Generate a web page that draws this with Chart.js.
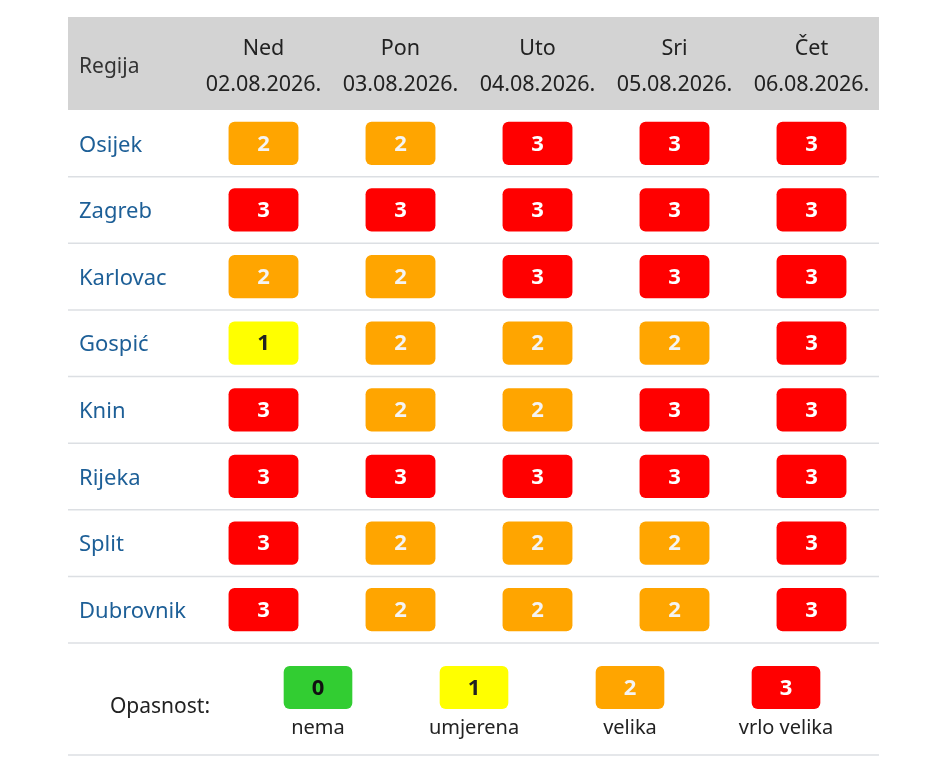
<!DOCTYPE html>
<html>
<head>
<meta charset="utf-8">
<script src="https://cdn.jsdelivr.net/npm/chart.js@4.4.0/dist/chart.umd.min.js"></script>
<style>
html,body{margin:0;padding:0;background:#fff;}
#wrap{position:relative;width:940px;height:782px;}
canvas{position:absolute;left:0;}
#tablica{top:0;}
#legenda{top:643px;}
</style>
</head>
<body>
<div id="wrap">
<canvas id="tablica" width="940" height="650"></canvas>
<canvas id="legenda" width="940" height="139"></canvas>
</div>
<script>
// podaci
var regije = ['Osijek','Zagreb','Karlovac','Gospić','Knin','Rijeka','Split','Dubrovnik'];
var dani = ['Ned','Pon','Uto','Sri','Čet'];
var datumi = ['02.08.2026.','03.08.2026.','04.08.2026.','05.08.2026.','06.08.2026.'];
var ned = [2,3,2,1,3,3,3,3];
var pon = [2,3,2,2,2,3,2,2];
var uto = [3,3,3,2,2,3,2,2];
var sri = [3,3,3,2,3,3,2,2];
var cet = [3,3,3,3,3,3,3,3];
var razine = [0,1,2,3];
var opisi = ['nema','umjerena','velika','vrlo velika'];
var boje = ['#32cd32','#ffff00','#ffa500','#ff0000'];
var bojeTeksta = ['#111','#222','#f4f4f4','#fff'];

Chart.defaults.font.family = '"Noto Sans", sans-serif';
Chart.defaults.font.size = 20;

// brojevi u kućicama
var brojevi = {
  id: 'brojevi',
  afterDatasetsDraw: function(chart) {
    var c = chart.ctx;
    c.save();
    c.font = 'bold 22px "Noto Sans", sans-serif';
    c.textAlign = 'center';
    c.textBaseline = 'middle';
    chart.data.datasets.forEach(function(ds, i) {
      chart.getDatasetMeta(i).data.forEach(function(el, j) {
        var p = el.getCenterPoint();
        var r = ds.razine[j];
        c.fillStyle = bojeTeksta[r];
        c.fillText(String(r), p.x, p.y + 1);
      });
    });
    c.restore();
  }
};

// sivo zaglavlje i crte između redaka
var zaglavlje = {
  id: 'zaglavlje',
  beforeDraw: function(chart) {
    var c = chart.ctx;
    c.save();
    c.fillStyle = '#d3d3d3';
    c.fillRect(68, 17, 811, chart.chartArea.top - 17);
    c.fillStyle = '#333';
    c.font = '21px "Noto Sans", sans-serif';
    c.textBaseline = 'middle';
    c.fillText('Regija', 79, 67);
    c.restore();
  },
  beforeDatasetsDraw: function(chart) {
    var c = chart.ctx, s = chart.scales.y;
    c.save();
    c.strokeStyle = '#dcdfe3';
    c.lineWidth = 1.5;
    for (var i = 1; i <= regije.length; i++) {
      var y = s.getPixelForValue(i - 0.5);
      c.beginPath();
      c.moveTo(68, y);
      c.lineTo(879, y);
      c.stroke();
    }
    c.restore();
  }
};

var stupci = [ned, pon, uto, sri, cet];

new Chart(document.getElementById('tablica'), {
  type: 'bar',
  data: {
    labels: regije,
    datasets: stupci.map(function(vrijednosti, d) {
      return {
        label: dani[d],
        razine: vrijednosti,
        data: vrijednosti.map(function() { return [d + 0.245, d + 0.755]; }),
        backgroundColor: vrijednosti.map(function(v) { return boje[v]; }),
        borderRadius: 6,
        borderSkipped: false,
        grouped: false,
        barPercentage: 0.65,
        categoryPercentage: 1
      };
    })
  },
  options: {
    indexAxis: 'y',
    responsive: false,
    animation: false,
    layout: { padding: { left: 79, top: 17, right: 60, bottom: 7 } },
    plugins: { legend: { display: false }, tooltip: { enabled: false } },
    scales: {
      y: {
        type: 'category',
        position: 'left',
        grid: { display: false, drawTicks: false },
        border: { display: false },
        ticks: { crossAlign: 'far', color: '#1d5f97', font: { size: 22 }, labelOffset: 2 },
        afterFit: function(s) { s.width = 116; s.paddingTop = 0; s.paddingBottom = 0; }
      },
      x: { type: 'linear', min: 0, max: 5, display: false },
      xh: {
        type: 'category',
        labels: dani.map(function(d, i) { return [d, datumi[i]]; }),
        position: 'top',
        offset: true,
        grid: { display: false, drawTicks: false },
        border: { display: false },
        ticks: { color: '#222', font: { size: 21.5, lineHeight: 1.67 }, padding: 7, maxRotation: 0 },
        afterFit: function(s) { s.height = 93; s.paddingLeft = 0; s.paddingRight = 0; }
      }
    }
  },
  plugins: [zaglavlje, brojevi]
});

// legenda
var legendaCrte = {
  id: 'legendaCrte',
  beforeDraw: function(chart) {
    var c = chart.ctx;
    c.save();
    c.strokeStyle = '#dcdfe3';
    c.lineWidth = 1.5;
    c.beginPath();
    c.moveTo(68, 112);
    c.lineTo(879, 112);
    c.stroke();
    c.fillStyle = '#222';
    c.font = '21px "Noto Sans", sans-serif';
    c.textAlign = 'center';
    c.textBaseline = 'middle';
    c.fillText('Opasnost:', 160, 64);
    c.restore();
  }
};

new Chart(document.getElementById('legenda'), {
  type: 'bar',
  data: {
    labels: opisi,
    datasets: [{
      label: 'Opasnost',
      razine: razine,
      data: razine.map(function() { return [0, 1]; }),
      backgroundColor: razine.map(function(r) { return boje[r]; }),
      borderRadius: 6,
      borderSkipped: false,
      barPercentage: 0.44,
      categoryPercentage: 1
    }]
  },
  options: {
    responsive: false,
    animation: false,
    layout: { padding: { left: 240, right: 76, top: 23, bottom: 0 } },
    plugins: { legend: { display: false }, tooltip: { enabled: false } },
    scales: {
      x: {
        grid: { display: false, drawTicks: false },
        border: { display: false },
        ticks: { color: '#222', font: { size: 20 }, padding: 7, maxRotation: 0 },
        afterFit: function(s) { s.height = 73; s.paddingLeft = 0; s.paddingRight = 0; }
      },
      y: { display: false, min: 0, max: 1 }
    }
  },
  plugins: [legendaCrte, brojevi]
});
</script>
</body>
</html>
